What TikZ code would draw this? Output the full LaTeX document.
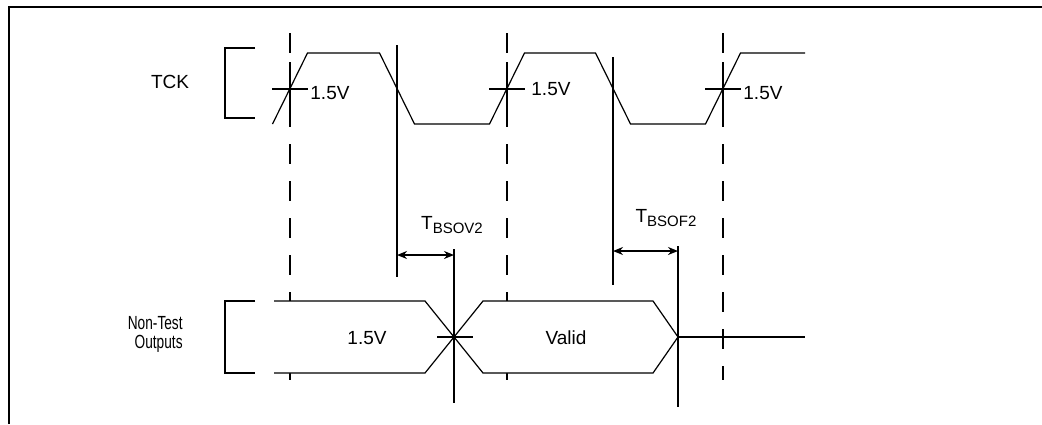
\documentclass[tikz,border=0pt]{standalone}
\usepackage{fontspec}
\setmainfont{Liberation Sans}
\usetikzlibrary{arrows.meta}

\begin{document}
\begin{tikzpicture}[x=0.5pt,y=-0.5pt,
		wave/.style={line width=0.6pt},
		edge/.style={line width=1pt},
		guide/.style={line width=1pt,dash pattern=on 10pt off 8.5pt},
		brkt/.style={line width=1pt},
		lbl/.style={inner sep=0pt,font=\fontsize{9.5}{9.5}\selectfont},
		span/.style={line width=0.8pt,{Stealth[length=5pt,width=4pt]}-{Stealth[length=5pt,width=4pt]}}]
		% levels of the clock and of the bus
		\def\hi{53}
		\def\lo{124}
		\def\mid{88.5}
		\def\h{17.5}
		\def\bt{301}
		\def\bb{373}
		\def\bm{337}
		
		\useasboundingbox (0,0) rectangle (1042,424);
		%\draw[help lines,step=50] (0,0) grid (1042,424);
		
		\draw[line width=1.1pt] (9,424) -- (9,7) -- (1042,7);
		
		% clock edges
		\foreach \g in {290,507,723}
			\draw[guide] (\g,33) -- (\g,380);
		
		\draw[wave] (290-\h,\lo) -- (290+\h,\hi) -- (397-\h,\hi) -- (397+\h,\lo) -- (507-\h,\lo) -- (507+\h,\hi) -- (613-\h,\hi) -- (613+\h,\lo) -- (723-\h,\lo) -- (723+\h,\hi) -- (805,\hi);
		
		\foreach \g in {290,507,723}{
			\draw[edge] (\g-18,\mid) -- (\g+18,\mid);
			\draw[edge] (\g,62) -- (\g,112);
		}
		\node[lbl,anchor=west] (lvA) at (310,93) {1.5V};
		\node[lbl,anchor=west] (lvB) at (531,89) {1.5V};
		\node[lbl,anchor=west] (lvC) at (743,93) {1.5V};
		
		\draw[brkt] (255,48) -- (225,48) -- (225,118) -- (255,118);
		\node[lbl] (tck) at (170,82) {TCK};
		
		% outputs
		\draw[wave,fill=white] (274,\bt) -- (425,\bt) -- (454,\bm) -- (425,\bb) -- (274,\bb);
		\draw[wave,fill=white] (454,\bm) -- (483,\bt) -- (653,\bt) -- (678,\bm) -- (653,\bb) -- (483,\bb) -- cycle;
		\draw[wave] (678,\bm) -- (805,\bm);
		\draw[edge] (437,\bm) -- (473,\bm);
		
		\node[lbl] (lvD) at (367,338) {1.5V};
		\node[lbl] (valid) at (566,338) {Valid};
		
		\draw[brkt] (255,\bt) -- (225,\bt) -- (225,\bb) -- (255,\bb);
		\node[lbl,align=right,anchor=east] (nto) at (183,334) {\scalebox{0.72}[1]{Non-Test}\\\scalebox{0.72}[1]{Outputs}};
		
		% timing marks
		\draw[edge] (397,45) -- (397,277);
		\draw[edge] (454,249) -- (454,403);
		\draw[edge] (613,57) -- (613,285);
		\draw[edge] (678,246) -- (678,407);
		
		\coordinate (ovA) at (397,255);
		\coordinate (ovB) at (454,255);
		\coordinate (ofA) at (613,251);
		\coordinate (ofB) at (678,251);
		\draw[span] (ovA) -- (ovB);
		\draw[span] (ofA) -- (ofB);
		\node[lbl] (tov) at (452,225) {T\raisebox{-0.45ex}{\fontsize{7.5}{8}\selectfont BSOV2}};
		\node[lbl] (tof) at (666,218) {T\raisebox{-0.45ex}{\fontsize{7.5}{8}\selectfont BSOF2}};
	\end{tikzpicture}
\end{document}
